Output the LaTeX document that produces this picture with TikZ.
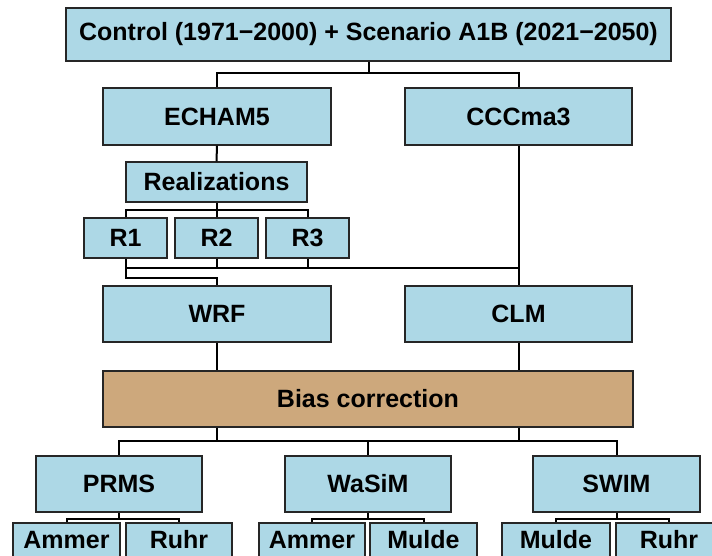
\documentclass[tikz,border=0pt]{standalone}
\usepackage{fontspec}
\setmainfont{Liberation Sans}
\definecolor{boxblue}{HTML}{ADD8E6}
\definecolor{boxtan}{HTML}{CDA87C}
\begin{document}
\begin{tikzpicture}[x=1pt,y=-1pt,
  modelbox/.style={draw=black!85,line width=1.3pt,fill=boxblue,rectangle,inner sep=0pt,
    minimum height=56pt,font=\fontsize{25}{28}\selectfont\bfseries},
  catchbox/.style={modelbox,text height=18pt,text depth=24pt},
  link/.style={draw=black,line width=2pt}]
\useasboundingbox (0,0) rectangle (712,555);
\begin{scope}
\clip (0,0) rectangle (712,555);
% scenario and global models
\node[modelbox,minimum width=605pt,minimum height=53pt] (top) at (368.5,34.5) {Control (1971−2000) + Scenario A1B (2021−2050)};
\node[modelbox,minimum width=228pt,minimum height=57pt] (echam) at (217,116.5) {ECHAM5};
\node[modelbox,minimum width=227pt,minimum height=57pt] (cccma) at (518.5,116.5) {CCCma3};
% realizations
\node[modelbox,minimum width=181pt,minimum height=40pt] (real) at (216.5,182) {Realizations};
\node[modelbox,minimum width=83pt,minimum height=40pt] (r1) at (125.5,238) {R1};
\node[modelbox,minimum width=83pt,minimum height=40pt] (r2) at (216.5,238) {R2};
\node[modelbox,minimum width=83pt,minimum height=40pt] (r3) at (307.5,238) {R3};
% regional models
\node[modelbox,minimum width=228pt] (wrf) at (217,314) {WRF};
\node[modelbox,minimum width=227pt] (clm) at (518.5,314) {CLM};
\node[modelbox,fill=boxtan,minimum width=530pt] (bias) at (368,399) {Bias correction};
% hydrological models
\node[modelbox,minimum width=166pt] (prms) at (119,484) {PRMS};
\node[modelbox,minimum width=166pt] (wasim) at (368,484) {WaSiM};
\node[modelbox,minimum width=167pt] (swim) at (616.5,484) {SWIM};
% catchments
\node[catchbox,minimum width=107pt] (c1) at (66.5,551) {Ammer};
\node[catchbox,minimum width=106pt] (c2) at (179,551) {Ruhr};
\node[catchbox,minimum width=106pt] (c3) at (312,551) {Ammer};
\node[catchbox,minimum width=107pt] (c4) at (423.5,551) {Mulde};
\node[catchbox,minimum width=108pt] (c5) at (556,551) {Mulde};
\node[catchbox,minimum width=106pt] (c6) at (669,551) {Ruhr};
% bus levels
\coordinate (b1) at (0,73);
\coordinate (b2) at (0,210);
\coordinate (b3) at (0,268);
\coordinate (b4) at (0,278);
\coordinate (b5) at (0,441);
\coordinate (b6) at (0,519);
% connectors
\draw[link] (top.south) -- (top.south |- b1);
\draw[link] (echam.north) -- (echam.north |- b1) -- (cccma.north |- b1) -- (cccma.north);
\draw[link] (echam.south) -- (real.north);
\draw[link] (real.south) -- (real.south |- b2);
\draw[link] (r1.north) -- (r1.north |- b2) -- (r3.north |- b2) -- (r3.north);
\draw[link] (r2.north) -- (r2.north |- b2);
\draw[link] (r1.south) -- (r1.south |- b4) -- (wrf.north |- b4) -- (wrf.north);
\draw[link] (r1.south |- b3) -- (cccma.south |- b3);
\draw[link] (r2.south) -- (r2.south |- b3);
\draw[link] (r3.south) -- (r3.south |- b3);
\draw[link] (cccma.south) -- (clm.north);
\draw[link] (wrf.south) -- (wrf.south |- bias.north);
\draw[link] (clm.south) -- (clm.south |- bias.north);
\draw[link] (bias.south -| wrf.south) -- (wrf.south |- b5);
\draw[link] (bias.south -| clm.south) -- (clm.south |- b5);
\draw[link] (prms.north) -- (prms.north |- b5) -- (swim.north |- b5) -- (swim.north);
\draw[link] (wasim.north) -- (wasim.north |- b5);
\draw[link] (prms.south) -- (prms.south |- b6);
\draw[link] (c1.north) -- (c1.north |- b6) -- (c2.north |- b6) -- (c2.north);
\draw[link] (wasim.south) -- (wasim.south |- b6);
\draw[link] (c3.north) -- (c3.north |- b6) -- (c4.north |- b6) -- (c4.north);
\draw[link] (swim.south) -- (swim.south |- b6);
\draw[link] (c5.north) -- (c5.north |- b6) -- (c6.north |- b6) -- (c6.north);
\end{scope}
\end{tikzpicture}
\end{document}
